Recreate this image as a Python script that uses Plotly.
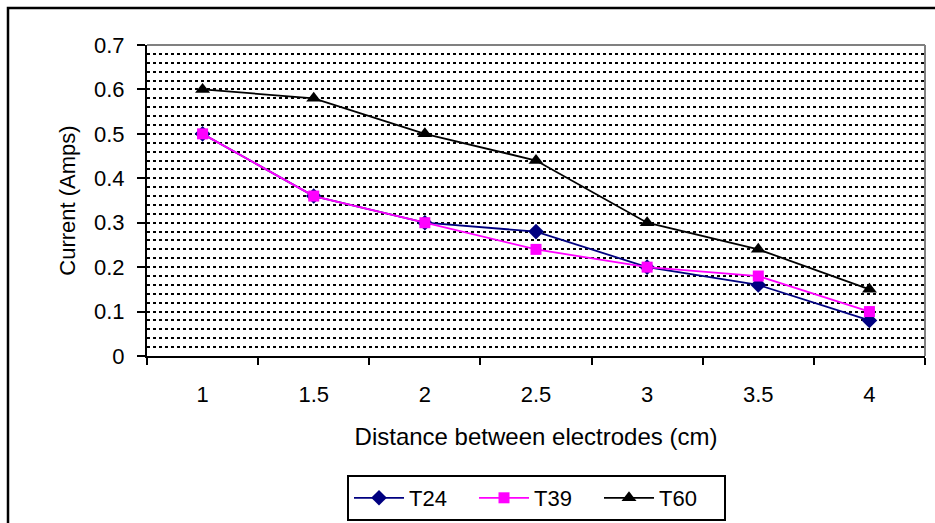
import plotly.graph_objects as go

distance = ["1", "1.5", "2", "2.5", "3", "3.5", "4"]
t24 = [0.50, 0.36, 0.30, 0.28, 0.20, 0.16, 0.08]
t39 = [0.50, 0.36, 0.30, 0.24, 0.20, 0.18, 0.10]
t60 = [0.60, 0.58, 0.50, 0.44, 0.30, 0.24, 0.15]
y_ticks = [0, 0.1, 0.2, 0.3, 0.4, 0.5, 0.6, 0.7]
y_tick_text = ["0", "0.1", "0.2", "0.3", "0.4", "0.5", "0.6", "0.7"]

W, H = 935, 523
L, R, T, B = 147, 10, 45, 167
pw, ph = W - L - R, H - T - B

FONT = "Liberation Sans, Arial, sans-serif"

fig = go.Figure()
fig.add_trace(go.Scatter(x=distance, y=t24, name="T24", mode="lines+markers",
                         line=dict(color="#000080", width=1.8),
                         marker=dict(symbol="diamond", size=12, color="#000080")))
fig.add_trace(go.Scatter(x=distance, y=t39, name="T39", mode="lines+markers",
                         line=dict(color="#FF00FF", width=1.8),
                         marker=dict(symbol="square", size=11, color="#FF00FF")))
fig.add_trace(go.Scatter(x=distance, y=t60, name="T60", mode="lines+markers",
                         line=dict(color="#000000", width=1.8),
                         marker=dict(symbol="triangle-up", size=13, color="#000000")))

def px_x(p):
    return (p - L) / pw
def px_y(p):
    return (H - B - p) / ph

# outer chart border
fig.add_shape(type="rect", xref="paper", yref="paper",
              x0=px_x(8), x1=px_x(940), y0=px_y(530), y1=px_y(8),
              line=dict(color="black", width=2.5), fillcolor="rgba(0,0,0,0)", layer="above")
# plot area border (gray top/right)
fig.add_shape(type="line", xref="paper", yref="paper", x0=0, x1=1, y0=1, y1=1,
              line=dict(color="#808080", width=2))
fig.add_shape(type="line", xref="paper", yref="paper", x0=1, x1=1, y0=0, y1=1,
              line=dict(color="#808080", width=2))

fig.update_layout(
    width=W, height=H,
    margin=dict(l=L, r=R, t=T, b=B, autoexpand=False),
    paper_bgcolor="white", plot_bgcolor="white",
    font=dict(family=FONT, size=22, color="black"),
    showlegend=True,
    legend=dict(orientation="h", x=px_x(347), xanchor="left", y=px_y(475), yanchor="top",
                bordercolor="black", borderwidth=2, font=dict(size=22),
                itemwidth=50, entrywidth=60, entrywidthmode="pixels", tracegroupgap=0),
    xaxis=dict(type="category", range=[-0.5, 6.5], tickson="boundaries",
               ticks="outside", ticklen=7, tickwidth=2, tickcolor="black",
               showline=True, linecolor="black", linewidth=2, automargin=False,
               showgrid=False, zeroline=False, ticklabelstandoff=18,
               title=dict(text="Distance between electrodes (cm)", standoff=22,
                          font=dict(size=24)),
               tickfont=dict(size=22)),
    yaxis=dict(range=[0, 0.7], tickvals=y_ticks, ticktext=y_tick_text,
               ticks="outside", ticklen=8, tickwidth=2, tickcolor="black",
               showline=True, linecolor="black", linewidth=2, automargin=False,
               showgrid=True, gridcolor="black", gridwidth=1.5, griddash="dot",
               minor=dict(dtick=0.02, showgrid=True, gridcolor="black", gridwidth=1.5, griddash="dot"),
               zeroline=False, ticklabelstandoff=8,
               title=dict(text="Current (Amps)", standoff=12, font=dict(size=22)),
               tickfont=dict(size=22)),
)

fig.write_html("out.html")
